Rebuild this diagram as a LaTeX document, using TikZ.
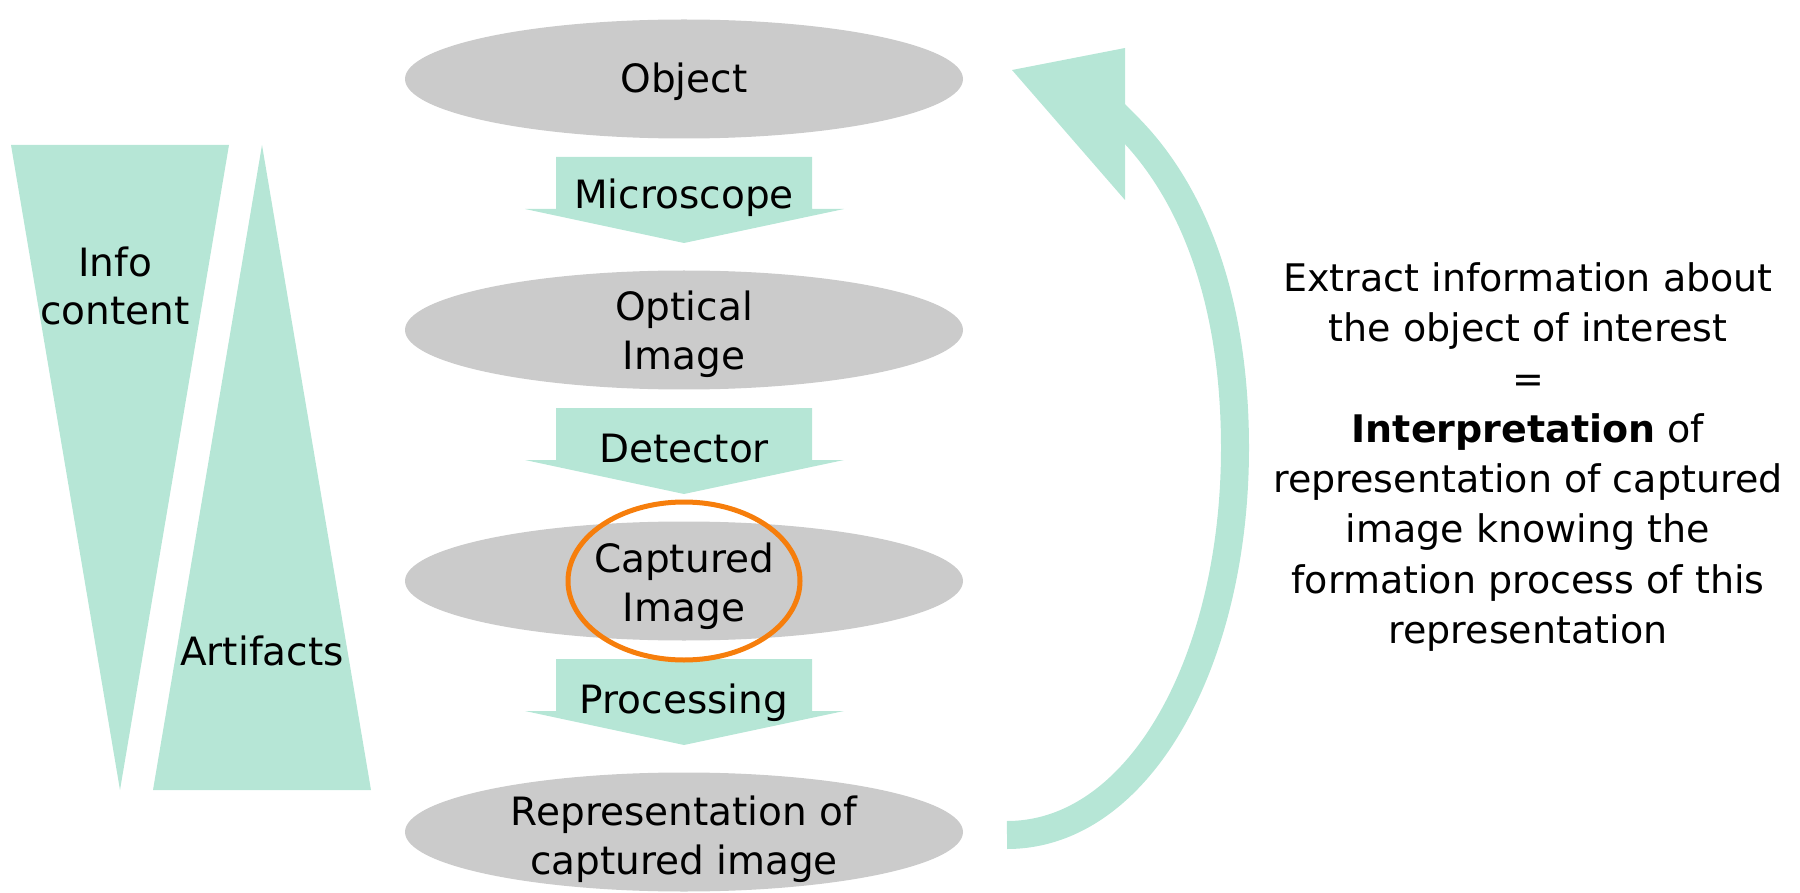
\documentclass[tikz,border=0pt]{standalone}
\usepackage{fontspec}
\setmainfont{DejaVu Sans}
\usetikzlibrary{shapes.geometric}
\definecolor{mint}{RGB}{182,230,214}
\definecolor{stone}{RGB}{203,203,203}
\definecolor{amber}{RGB}{246,126,12}

% block arrow pointing down, placed under the stage centred at height #1
\newcommand\flowarrow[1]{%
  \fill[mint] (556,{#1+78}) -- (812,{#1+78}) -- (812,{#1+130}) -- (844,{#1+130})
    -- (684,{#1+164}) -- (525,{#1+130}) -- (556,{#1+130}) -- cycle;}

\begin{document}
\begin{tikzpicture}[x=1pt,y=-1pt,
  bigtext/.style={font=\fontsize{39}{48.5}\selectfont},
  stage/.style={ellipse, fill=stone, minimum width=558pt, minimum height=119pt,
    inner sep=0pt},
  stagetext/.style={inner sep=0pt, align=center, bigtext},
  steplabel/.style={inner sep=0pt, bigtext},
  sidelabel/.style={inner sep=0pt, align=center, bigtext},
  note/.style={inner sep=0pt, align=center, font=\fontsize{38}{50.3}\selectfont}]
\useasboundingbox (0,0) rectangle (1800,893);

% stages of the imaging chain
\node[stage] (obj) at (684,79)  {};
\node[stage] (opt) at (684,330) {};
\node[stage] (cap) at (684,581) {};
\node[stage] (rep) at (684,832) {};
\node[stagetext] (objT) at (684,82)  {Object};
\node[stagetext] (optT) at (684,334) {Optical\\Image};
\node[stagetext] (capT) at (684,586) {Captured\\Image};
\node[stagetext] (repT) at (684,839) {Representation of\\captured image};

% steps between the stages
\flowarrow{79}
\flowarrow{330}
\flowarrow{581}
\node[steplabel] (micro) at (684,198) {Microscope};
\node[steplabel] (det)   at (684,449) {Detector};
\node[steplabel] (proc)  at (684,703) {Processing};

% highlight of the captured image
\draw[amber, line width=5pt] (cap.center) ellipse [x radius=116, y radius=79];

% opposing wedges
\fill[mint] (11,145) -- (229,145) -- (120,790) -- cycle;
\fill[mint] (262,145) -- (371,790) -- (153,790) -- cycle;
\node[sidelabel] (info) at (115,286) {Info\\content};
\node[sidelabel] (art)  at (262,651) {Artifacts};

% feedback arrow from the representation back to the object
\coordinate (fbstart) at (1007,835);
\coordinate (fbjoin) at (1127,126);
\coordinate (fbend) at (1106,105);
\draw[mint, line width=28pt] (fbstart) .. controls (1140,835) and (1235,660) .. (1235,448)
  .. controls (1235,300) and (1193,192) .. (fbjoin) -- (fbend);
\fill[mint] (1012,70) -- (1125,48) -- (1125,200) -- cycle;

% interpretation note
\node[note] (txt) at (1528,457) {Extract information about\\the object of interest\\=\\
  \textbf{Interpretation} of\\representation of captured\\image knowing the\\
  formation process of this\\representation};
\end{tikzpicture}
\end{document}
